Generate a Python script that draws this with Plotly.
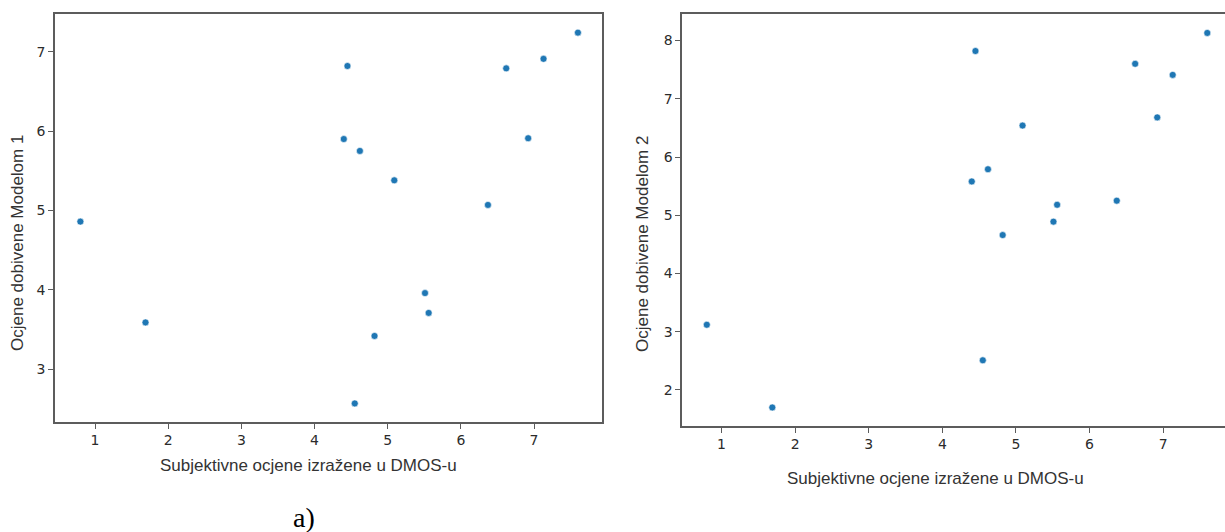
import plotly.graph_objects as go

# Data
dmos = [0.80, 1.69, 4.40, 4.45, 4.62, 4.55, 4.82, 5.09, 5.51, 5.56, 6.37, 6.62, 6.92, 7.13, 7.60]
model1 = [4.86, 3.59, 5.90, 6.82, 5.75, 2.57, 3.42, 5.38, 3.96, 3.71, 5.07, 6.79, 5.91, 6.91, 7.24]
model2 = [3.12, 1.70, 5.58, 7.82, 5.79, 2.51, 4.66, 6.54, 4.89, 5.18, 5.25, 7.60, 6.68, 7.41, 8.13]

x_title = "Subjektivne ocjene izražene u DMOS-u"
y1_title = "Ocjene dobivene Modelom 1"
y2_title = "Ocjene dobivene Modelom 2"
panel_label = "a)"

W, H = 1225, 532
BLUE = "#1f77b4"
LINE = "#5c5c5c"

def px(x):
    return x / W

def py(y):
    return 1 - y / H

marker = dict(color=BLUE, size=7, line=dict(color="white", width=0.6))

fig = go.Figure()
fig.add_trace(go.Scatter(x=dmos, y=model1, mode="markers", marker=marker,
                         xaxis="x", yaxis="y", showlegend=False))
fig.add_trace(go.Scatter(x=dmos, y=model2, mode="markers", marker=marker,
                         xaxis="x2", yaxis="y2", showlegend=False))

tickfont = dict(family="DejaVu Sans", size=14, color="#2b2b2b")
axis_common = dict(showgrid=False, zeroline=False, showline=True, linecolor=LINE,
                   linewidth=1.8, ticks="outside", ticklen=5, tickwidth=1.2,
                   tickcolor=LINE, tickfont=tickfont)

fig.update_layout(
    width=W, height=H,
    margin=dict(l=0, r=0, t=0, b=0),
    paper_bgcolor="white", plot_bgcolor="white",
    xaxis=dict(domain=[px(55), px(601.7)], range=[0.453, 7.925], anchor="y",
               tickvals=[1, 2, 3, 4, 5, 6, 7], mirror=True, **axis_common),
    yaxis=dict(domain=[py(421.7), py(14.3)], range=[2.34, 7.471], anchor="x",
               tickvals=[3, 4, 5, 6, 7], mirror=True, **axis_common),
    xaxis2=dict(domain=[px(682.3), 1.0], range=[0.467, 0.467 + (W - 682.3) / 73.6], anchor="y2",
                tickvals=[1, 2, 3, 4, 5, 6, 7], mirror=True, **axis_common),
    yaxis2=dict(domain=[py(425.7), py(14.3)], range=[1.387, 8.45], anchor="x2",
                tickvals=[2, 3, 4, 5, 6, 7, 8], mirror=False, **axis_common),
)

titlefont = dict(family="Liberation Sans", size=17, color="#333333")
ann = [
    dict(text=x_title, x=px(308), y=py(465), font=titlefont),
    dict(text=x_title, x=px(935), y=py(478), font=titlefont),
    dict(text=y1_title, x=px(17), y=py(243), textangle=-90, font=titlefont),
    dict(text=y2_title, x=px(642), y=py(244), textangle=-90, font=titlefont),
    dict(text=panel_label, x=px(304), y=py(517),
         font=dict(family="Liberation Serif", size=28, color="black")),
]
for a in ann:
    fig.add_annotation(xref="paper", yref="paper", showarrow=False,
                       xanchor="center", yanchor="middle", **a)

fig.write_html("out.html", config={"displayModeBar": False},
               post_script="document.body.style.margin='0';document.body.style.overflow='hidden';")
